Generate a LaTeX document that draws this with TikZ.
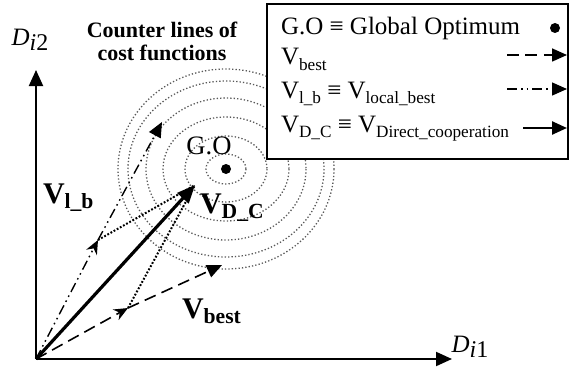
\documentclass[tikz,border=0pt]{standalone}
\usepackage{fontspec}
\setmainfont{Liberation Serif}
\usetikzlibrary{arrows.meta}

% small subscripts for the legend and the bold vector labels
\newcommand{\lsub}[1]{\raisebox{-2.5pt}{\fontsize{8.6}{9}\selectfont #1}}
\newcommand{\bsub}[1]{\raisebox{-2.6pt}{\fontsize{10.8}{11}\selectfont\bfseries #1}}
\newcommand{\axsub}[1]{\raisebox{-2.2pt}{\fontsize{12}{12}\selectfont #1}}

\begin{document}
\begin{tikzpicture}[
  x=0.5pt, y=-0.5pt,
  every node/.style={inner sep=0pt, outer sep=0pt},
  axis/.style={line width=1pt, -{Triangle[length=8pt,width=7pt]}},
  contour/.style={draw=black!65, line width=0.65pt, dash pattern=on 0.65pt off 1.05pt},
  vdc/.style={line width=1.6pt, -{Triangle[length=9pt,width=7.5pt]}},
  vlb/.style={line width=0.7pt,
              dash pattern=on 5pt off 2pt on 0.8pt off 2pt on 0.8pt off 2pt},
  vbest/.style={line width=0.8pt, dash pattern=on 6pt off 3.2pt},
  midtip/.style={-{Stealth[length=7pt,width=6pt]}},
  endtip/.style={-{Triangle[length=7.5pt,width=6.5pt]}},
  helper/.style={line width=1pt, dash pattern=on 0.9pt off 0.9pt},
  lgtext/.style={font=\fontsize{12.5}{14}\selectfont, anchor=base west},
  vlabel/.style={font=\fontsize{15}{16}\selectfont\bfseries, anchor=base west},
  axlabel/.style={font=\fontsize{12.5}{13}\selectfont},
  godot/.style={circle, fill=black, minimum size=5pt},
]
\useasboundingbox (0,0) rectangle (571,369);

% ── Axes ───────────────────────────────────────────────────────────
\coordinate (O)    at (36,359);
\coordinate (ytip) at (36,70);
\coordinate (xtip) at (452,359);
\draw[axis] (O) -- (ytip);
\draw[axis] (O) -- (xtip);
\node[axlabel] (dy) at (30,40)  {\textit{D}\axsub{\textit{i}2}};
\node[axlabel] (dx) at (470,347) {\textit{D}\axsub{\textit{i}1}};

% ── Contour lines round the global optimum ─────────────────────────
\coordinate (go) at (226,169);
\foreach \rx/\ry in {20/15, 41/33, 63/52, 80/71, 98/88, 108/100}
  \draw[contour] (go) ellipse [x radius=\rx, y radius=\ry];
\node[godot] (goDot) at (go) {};
\node[font=\fontsize{13.3}{14}\selectfont] (goLab) at (209,146) {G.O};

\node[font=\fontsize{11}{11.5}\selectfont\bfseries, align=center, anchor=north]
  (title) at (162,22) {Counter lines of\\cost functions};

% ── Vectors ────────────────────────────────────────────────────────
\coordinate (lbMid) at (98,240);
\coordinate (lbTip) at (162,122);
\coordinate (bMid)  at (128,308);
\coordinate (bTip)  at (222,265);
\coordinate (dcTip) at (195,185);

\draw[helper] (lbMid) -- (dcTip);
\draw[helper] (bMid) -- (dcTip);

\draw[vlb, midtip] (O) -- (lbMid);
\draw[vlb, endtip] (lbMid) -- (lbTip);
\draw[vbest, midtip] (O) -- (bMid);
\draw[vbest, endtip] (bMid) -- (bTip);
\draw[vdc] (O) -- (dcTip);

\node[vlabel] (labLb)   at (43,203)  {V\bsub{l\_b}};
\node[vlabel] (labDC)   at (200,213) {V\bsub{D\_C}};
\node[vlabel] (labBest) at (182,318) {V\bsub{best}};

% ── Legend ─────────────────────────────────────────────────────────
\draw[line width=1pt, fill=white] (267,4) rectangle (568,159);
\node[lgtext] (lgGO)   at (281,35)  {G.O ≡ Global Optimum};
\node[lgtext] (lgBest) at (281,65)  {V\lsub{best}};
\node[lgtext] (lgLb)   at (281,98)  {V\lsub{l\_b} ≡ V\lsub{local\_best}};
\node[lgtext] (lgDC)   at (281,132) {V\lsub{D\_C} ≡ V\lsub{Direct\_cooperation}};

\node[godot] (lgDot) at (555,28) {};
\coordinate (bestL) at (507,55);  \coordinate (bestR) at (567,55);
\coordinate (lbL)   at (507,89);  \coordinate (lbR)   at (567,89);
\coordinate (dcL)   at (523,128); \coordinate (dcR)   at (567,128);
\draw[vbest, endtip] (bestL) -- (bestR);
\draw[vlb, endtip] (lbL) -- (lbR);
\draw[line width=1.2pt, endtip] (dcL) -- (dcR);

\end{tikzpicture}
\end{document}
